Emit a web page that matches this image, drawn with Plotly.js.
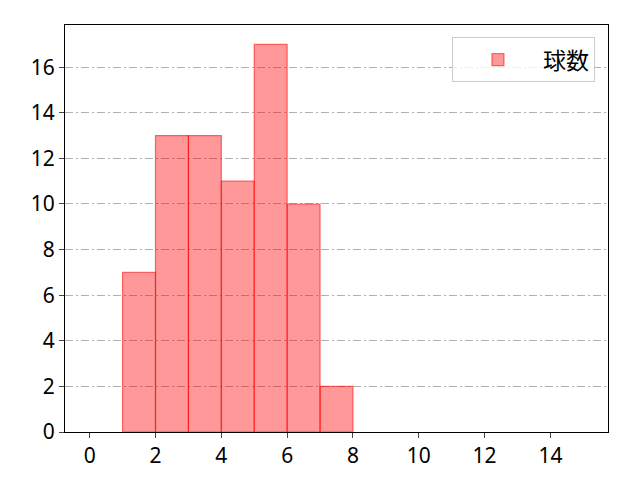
<!DOCTYPE html>
<html><head><meta charset="utf-8">
<script src="https://cdn.plot.ly/plotly-3.0.1.min.js"></script>
<style>body{margin:0;}#chart{width:640px;height:480px;}</style>
</head><body><div id="chart"></div>
<script>
const binLeft = [1, 2, 3, 4, 5, 6, 7];
const counts = [7, 13, 13, 11, 17, 10, 2];
const seriesName = "球数";
const xTicks = [0, 2, 4, 6, 8, 10, 12, 14];
const yTicks = [0, 2, 4, 6, 8, 10, 12, 14, 16];

const binWidth = 1;
const trace = {
  type: 'bar',
  x: binLeft.map(v => v + binWidth / 2),
  y: counts,
  width: binLeft.map(() => binWidth),
  name: seriesName,
  showlegend: true,
  marker: {color: 'rgba(255,0,0,0.4)', line: {color: 'rgba(255,0,0,0.55)', width: 1.2}}
};
const layout = {
  width: 640, height: 480,
  margin: {l: 65, r: 32, t: 25, b: 48},
  paper_bgcolor: 'white', plot_bgcolor: 'white',
  font: {family: 'Noto Sans, sans-serif', size: 21, color: '#000'},
  bargap: 0,
  xaxis: {range: [-0.75, 15.75], tickvals: xTicks, ticks: 'outside', ticklen: 5, tickwidth: 1,
    showgrid: false, zeroline: false, showline: true, mirror: true, linecolor: '#000', linewidth: 1,
    tickfont: {size: 21}},
  yaxis: {range: [0, 17.85], tickvals: yTicks, ticks: 'outside', ticklen: 5, tickwidth: 1,
    showgrid: true, gridcolor: '#b0b0b0', gridwidth: 1, griddash: '8px,3px,2px,3px',
    zeroline: false, showline: true, mirror: true, linecolor: '#000', linewidth: 1,
    tickfont: {size: 21}},
  showlegend: true,
  legend: {x: 0.976, y: 0.97, xanchor: 'right', yanchor: 'top', bgcolor: 'rgba(255,255,255,0.8)',
    bordercolor: '#cccccc', borderwidth: 1, font: {family: 'Noto Sans CJK JP', size: 23},
    itemwidth: 80}
};
Plotly.newPlot('chart', [trace], layout, {staticPlot: true});
</script></body></html>
